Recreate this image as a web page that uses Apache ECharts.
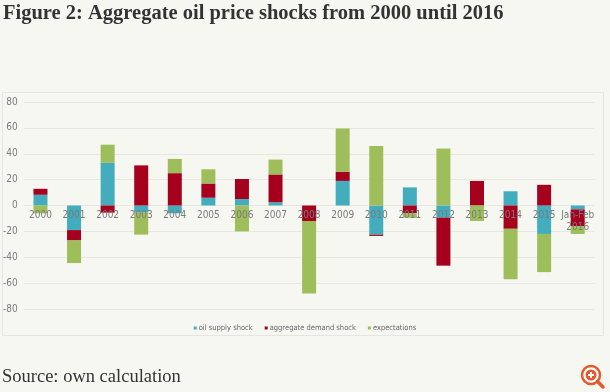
<!DOCTYPE html>
<html><head><meta charset="utf-8">
<script src="https://cdn.jsdelivr.net/npm/echarts@6/dist/echarts.min.js"></script>
<style>html,body{margin:0;padding:0;background:#f7f7f2;}#c{width:610px;height:392px;}</style>
</head><body><div id="c"></div>
<script>
const categories = ['2000','2001','2002','2003','2004','2005','2006','2007','2008','2009','2010','2011','2012','2013','2014','2015','Jan-Feb\n2016'];
const oilSupply = [8.3, -19, 33, -5.5, -6, 6, 5, 2.5, 0, 19, -22.5, 14, -9.5, 0, 11, -22, -3];
const aggDemand = [4.6, -8, -5.5, 31, 25, 11, 15.5, 21.5, -12, 7, -1, -6, -37, 19, -18, 16, -13];
const expectations = [-6, -17.5, 14, -17, 11, 11, -20, 11.5, -56, 33.5, 46, -3.5, 44, -12, -39, -29.5, -6];
const seriesNames = ['oil supply shock', 'aggregate demand shock', 'expectations'];
const colors = ['#43adbd', '#a6001f', '#9dbe5a'];
const yTicks = {min: -80, max: 80, interval: 20};

const narrow = "'Liberation Sans Narrow', 'DejaVu Sans Condensed', sans-serif";
const chart = echarts.init(document.getElementById('c'));
const values = [oilSupply, aggDemand, expectations];
chart.setOption({
  backgroundColor: '#f7f7f2',
  animation: false,
  title: {
    text: 'Figure 2: Aggregate oil price shocks from 2000 until 2016',
    left: 3, top: 3, padding: 0,
    textStyle: {fontFamily: 'Liberation Serif', fontWeight: 'bold', fontSize: 20.5, color: '#333'}
  },
  graphic: [
    {type: 'rect', shape: {x: 2.5, y: 92.5, width: 601, height: 243}, style: {fill: 'none', stroke: '#e6e6e1', lineWidth: 1}, z: -1},
    {type: 'text', left: 2, top: 368, style: {text: 'Source: own calculation', font: '18.5px "Liberation Serif"', fill: '#333'}},
    {type: 'circle', shape: {cx: 591, cy: 375, r: 9}, style: {fill: '#fff', stroke: '#e5582b', lineWidth: 2.5}},
    {type: 'circle', shape: {cx: 591, cy: 375, r: 5.5}, style: {fill: '#e5582b'}},
    {type: 'line', shape: {x1: 588, y1: 375, x2: 594, y2: 375}, style: {stroke: '#fff', lineWidth: 2}},
    {type: 'line', shape: {x1: 591, y1: 372, x2: 591, y2: 378}, style: {stroke: '#fff', lineWidth: 2}},
    {type: 'line', shape: {x1: 597.5, y1: 381.5, x2: 603, y2: 387}, style: {stroke: '#e5582b', lineWidth: 3.5, lineCap: 'round'}}
  ],
  legend: {
    data: seriesNames,
    top: 319, left: 'center',
    icon: 'rect', itemWidth: 3, itemHeight: 3, itemGap: 12,
    textStyle: {fontSize: 7.5, color: '#666', fontFamily: narrow, padding: [0, 0, 0, -3]}
  },
  grid: {left: 23, right: 15.5, top: 102, bottom: 83, containLabel: false},
  xAxis: {
    type: 'category', data: categories, z: 10, position: 'bottom', offset: -103.5,
    axisLine: {show: false, onZero: false}, axisTick: {show: false},
    axisLabel: {margin: 4, fontSize: 10, color: '#7a7a7a', fontFamily: narrow, lineHeight: 12, interval: 0}
  },
  yAxis: {
    type: 'value', min: yTicks.min, max: yTicks.max, interval: yTicks.interval,
    axisLine: {show: false}, axisTick: {show: false},
    axisLabel: {margin: 6, fontSize: 10, color: '#7a7a7a', fontFamily: narrow},
    splitLine: {lineStyle: {color: '#e7e7e2', width: 1}}
  },
  series: seriesNames.map((n, i) => ({
    name: n, type: 'bar', stack: 'total', barWidth: 14,
    itemStyle: {color: colors[i]},
    data: values[i]
  }))
});
</script></body></html>
